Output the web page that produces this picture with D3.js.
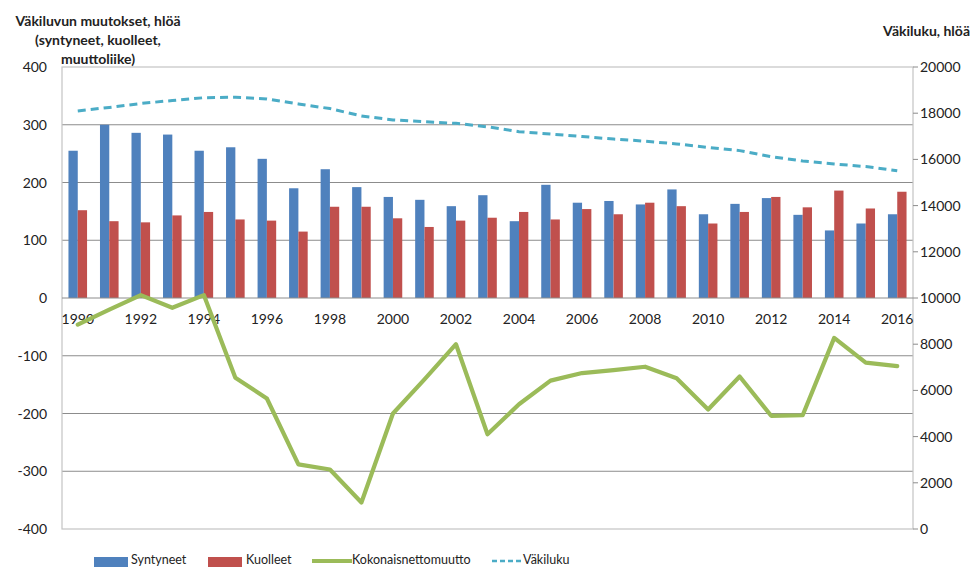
<!DOCTYPE html>
<html><head><meta charset="utf-8">
<script src="https://cdn.jsdelivr.net/npm/d3@7"></script>
<style>body{margin:0;background:#fff;}svg{display:block;font-family:Lato,"Liberation Sans",sans-serif;}</style>
</head><body>
<svg id="c" width="973" height="567"></svg>
<script>
const years = d3.range(1990, 2017);
const syntyneet = [255,300,286,283,255,261,241,190,223,192,175,170,159,178,133,196,165,168,162,188,145,163,173,144,117,129,145];
const kuolleet  = [152,133,131,143,149,136,134,115,158,158,138,123,134,139,149,136,154,145,165,159,129,149,175,157,186,155,184];
const nettomuutto = [-46,-20,5,-17,5,-138,-174,-288,-297,-354,-200,-141,-80,-236,-184,-143,-130,-125,-119,-139,-193,-136,-204,-203,-69,-112,-118];
const vakiluku = [18100,18250,18420,18550,18670,18690,18620,18400,18200,17880,17710,17630,17560,17410,17200,17100,16990,16880,16790,16670,16520,16380,16120,15930,15800,15690,15510];
const leftTicks = [400,300,200,100,0,-100,-200,-300,-400];
const rightTicks = [20000,18000,16000,14000,12000,10000,8000,6000,4000,2000,0];
const xLabelYears = years.filter(y => y % 2 === 0);

const svg = d3.select("#c");
const L = 62, R = 913, T = 67, B = 529;
const x = d3.scaleBand().domain(years).range([L, R]);
const yL = d3.scaleLinear().domain([-400, 400]).range([B, T]);
const yR = d3.scaleLinear().domain([0, 20000]).range([B, T]);
const bw = 9.3;

// gridlines
svg.append("g").selectAll("line").data(leftTicks.filter(v => v !== 400 && v !== -400 && v !== 0))
  .join("line").attr("x1", L).attr("x2", R).attr("y1", d => yL(d)).attr("y2", d => yL(d))
  .attr("stroke", "#8c8c8c").attr("stroke-width", 1);
// plot border
svg.append("rect").attr("x", L).attr("y", T).attr("width", R - L).attr("height", B - T)
  .attr("fill", "none").attr("stroke", "#c4c4c4").attr("stroke-width", 1.2);

// bars
const cx = d => x(d) + x.bandwidth() / 2;
svg.append("g").selectAll("rect").data(years).join("rect")
  .attr("x", d => cx(d) - bw).attr("width", bw)
  .attr("y", (d, i) => yL(syntyneet[i])).attr("height", (d, i) => yL(0) - yL(syntyneet[i]))
  .attr("fill", "#4F81BD");
svg.append("g").selectAll("rect").data(years).join("rect")
  .attr("x", d => cx(d)).attr("width", bw)
  .attr("y", (d, i) => yL(kuolleet[i])).attr("height", (d, i) => yL(0) - yL(kuolleet[i]))
  .attr("fill", "#C0504D");

// zero axis line
svg.append("line").attr("x1", L).attr("x2", R).attr("y1", yL(0)).attr("y2", yL(0))
  .attr("stroke", "#8c8c8c").attr("stroke-width", 1);

// left axis labels
svg.append("g").selectAll("text").data(leftTicks).join("text")
  .attr("x", 47).attr("y", d => yL(d) + 5).attr("text-anchor", "end")
  .attr("font-size", 14).attr("fill", "#222").text(d => d);

// right axis ticks + labels
svg.append("g").selectAll("line").data(rightTicks).join("line")
  .attr("x1", R).attr("x2", R + 5).attr("y1", d => yR(d)).attr("y2", d => yR(d))
  .attr("stroke", "#8c8c8c");
svg.append("g").selectAll("text").data(rightTicks).join("text")
  .attr("x", 920).attr("y", d => yR(d) + 5).attr("text-anchor", "start")
  .attr("font-size", 14).attr("fill", "#222").text(d => d);

// x labels
svg.append("g").selectAll("text").data(xLabelYears).join("text")
  .attr("x", d => cx(d)).attr("y", yL(0) + 26).attr("text-anchor", "middle")
  .attr("font-size", 14).attr("fill", "#222").text(d => d);

// lines
const lineL = d3.line().x((d, i) => cx(years[i])).y(d => yL(d));
const lineR = d3.line().x((d, i) => cx(years[i])).y(d => yR(d));
svg.append("path").attr("d", lineL(nettomuutto)).attr("fill", "none")
  .attr("stroke", "#9BBB59").attr("stroke-width", 4.2).attr("stroke-linejoin", "round").attr("stroke-linecap", "round");
svg.append("path").attr("d", lineR(vakiluku)).attr("fill", "none")
  .attr("stroke", "#4BACC6").attr("stroke-width", 3).attr("stroke-dasharray", "8,5");

// titles
const lt = svg.append("text").attr("font-size", 14).attr("font-weight", "bold").attr("fill", "#222").attr("text-anchor", "middle");
["Väkiluvun muutokset, hlöä", "(syntyneet, kuolleet,", "muuttoliike)"].forEach((t, i) =>
  lt.append("tspan").attr("x", 98).attr("y", 26 + i * 19).text(t));
svg.append("text").attr("x", 970).attr("y", 36).attr("text-anchor", "end")
  .attr("font-size", 14).attr("font-weight", "bold").attr("fill", "#222").text("Väkiluku, hlöä");

// legend
const lg = svg.append("g").attr("font-size", 12.5).attr("fill", "#222");
const legendItems = [
  {name: "Syntyneet", type: "rect", color: "#4F81BD", x: 94, tx: 131},
  {name: "Kuolleet", type: "rect", color: "#C0504D", x: 208, tx: 246},
  {name: "Kokonaisnettomuutto", type: "line", color: "#9BBB59", x: 312, tx: 352},
  {name: "Väkiluku", type: "dash", color: "#4BACC6", x: 492, tx: 523}
];
legendItems.forEach(it => {
  if (it.type === "rect") lg.append("rect").attr("x", it.x).attr("y", 557).attr("width", 34).attr("height", 10).attr("fill", it.color);
  else if (it.type === "line") lg.append("line").attr("x1", it.x).attr("x2", it.x + 40).attr("y1", 561).attr("y2", 561).attr("stroke", it.color).attr("stroke-width", 4.2);
  else lg.append("line").attr("x1", it.x).attr("x2", it.x + 30).attr("y1", 561).attr("y2", 561).attr("stroke", it.color).attr("stroke-width", 2.5).attr("stroke-dasharray", "5,3");
  lg.append("text").attr("x", it.tx).attr("y", 564).text(it.name);
});
</script>
</body></html>
